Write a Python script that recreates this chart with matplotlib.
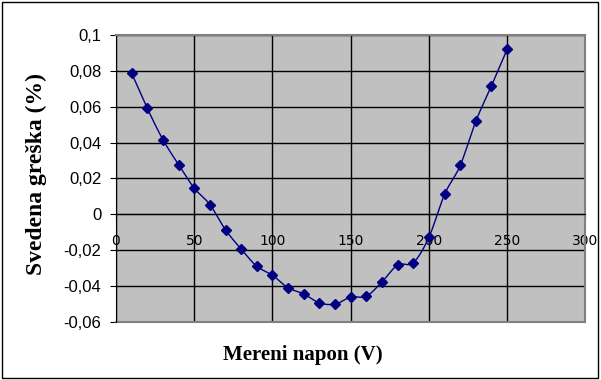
import numpy as np
import matplotlib.pyplot as plt
from matplotlib.patches import Rectangle

# measured voltage (V) and reduced error (%)
napon = [10, 20, 30, 40, 50, 60, 70, 80, 90, 100, 110, 120, 130,
         140, 150, 160, 170, 180, 190, 200, 210, 220, 230, 240, 250]
greska = [0.0787, 0.0591, 0.0416, 0.0277, 0.0146, 0.0054, -0.0087,
          -0.0194, -0.0290, -0.0340, -0.0410, -0.0444, -0.0494, -0.0501,
          -0.0462, -0.0457, -0.0377, -0.0283, -0.0270, -0.0128, 0.0111,
          0.0272, 0.0519, 0.0717, 0.0920]
x_ticks = [0, 50, 100, 150, 200, 250, 300]
y_ticks = [-0.06, -0.04, -0.02, 0, 0.02, 0.04, 0.06, 0.08, 0.1]


def smooth(x, y, n=20):
    # Catmull-Rom style smoothing like Excel's smoothed line
    x = np.asarray(x, float)
    y = np.asarray(y, float)
    px = np.concatenate([[2 * x[0] - x[1]], x, [2 * x[-1] - x[-2]]])
    py = np.concatenate([[2 * y[0] - y[1]], y, [2 * y[-1] - y[-2]]])
    xs, ys = [], []
    t = np.linspace(0, 1, n, endpoint=False)
    for i in range(1, len(px) - 2):
        for p, out in ((px, xs), (py, ys)):
            p0, p1, p2, p3 = p[i - 1], p[i], p[i + 1], p[i + 2]
            out.extend(0.5 * ((2 * p1) + (-p0 + p2) * t
                              + (2 * p0 - 5 * p1 + 4 * p2 - p3) * t ** 2
                              + (-p0 + 3 * p1 - 3 * p2 + p3) * t ** 3))
    xs.append(x[-1])
    ys.append(y[-1])
    return xs, ys


fig = plt.figure(figsize=(6.01, 3.8), dpi=100)
ax = fig.add_axes([0.193, 0.153, 0.781, 0.755])
ax.set_facecolor('#C0C0C0')

sx, sy = smooth(napon, greska)
ax.plot(sx, sy, color='#000080', lw=1, zorder=3)
ax.plot(napon, greska, linestyle='none', marker='D', markersize=5,
        color='#000080', zorder=4)

ax.set_xlim(0, 300)
ax.set_ylim(-0.06, 0.1)
ax.set_xticks(x_ticks)
ax.set_yticks(y_ticks)
ax.set_yticklabels([('%g' % v).replace('.', ',') for v in y_ticks],
                   fontname='Liberation Sans', fontsize=12)
ax.set_xticklabels([str(v) for v in x_ticks], fontname='Liberation Sans',
                   fontsize=12)
ax.grid(True, color='black', lw=1)
ax.set_axisbelow(True)

for s in ['top', 'right']:
    ax.spines[s].set_color('#808080')
    ax.spines[s].set_linewidth(1.5)
    ax.spines[s].set_zorder(2.5)
ax.spines['left'].set_color('black')
ax.spines['bottom'].set_position(('data', 0))
ax.spines['bottom'].set_color('black')
ax.axhline(-0.06, color='#808080', lw=1.5, zorder=2.5, clip_on=False)
ax.tick_params(axis='y', direction='out', length=4.5, pad=6)
ax.tick_params(axis='x', direction='out', length=4.5, pad=10)

ax.set_ylabel('Svedena greška (%)', fontname='Liberation Serif',
              fontweight='bold', fontsize=17)
ax.yaxis.set_label_coords(-0.147, 0.517)
fig.text(0.504, 0.066, 'Mereni napon (V)', fontname='Liberation Serif',
         fontweight='bold', fontsize=15, ha='center', va='center')

fig.patches.append(Rectangle((0.003, 0.004), 0.992, 0.992, transform=fig.transFigure,
                             fill=False, edgecolor='black', lw=1))

fig.savefig('out.png', dpi=100)
